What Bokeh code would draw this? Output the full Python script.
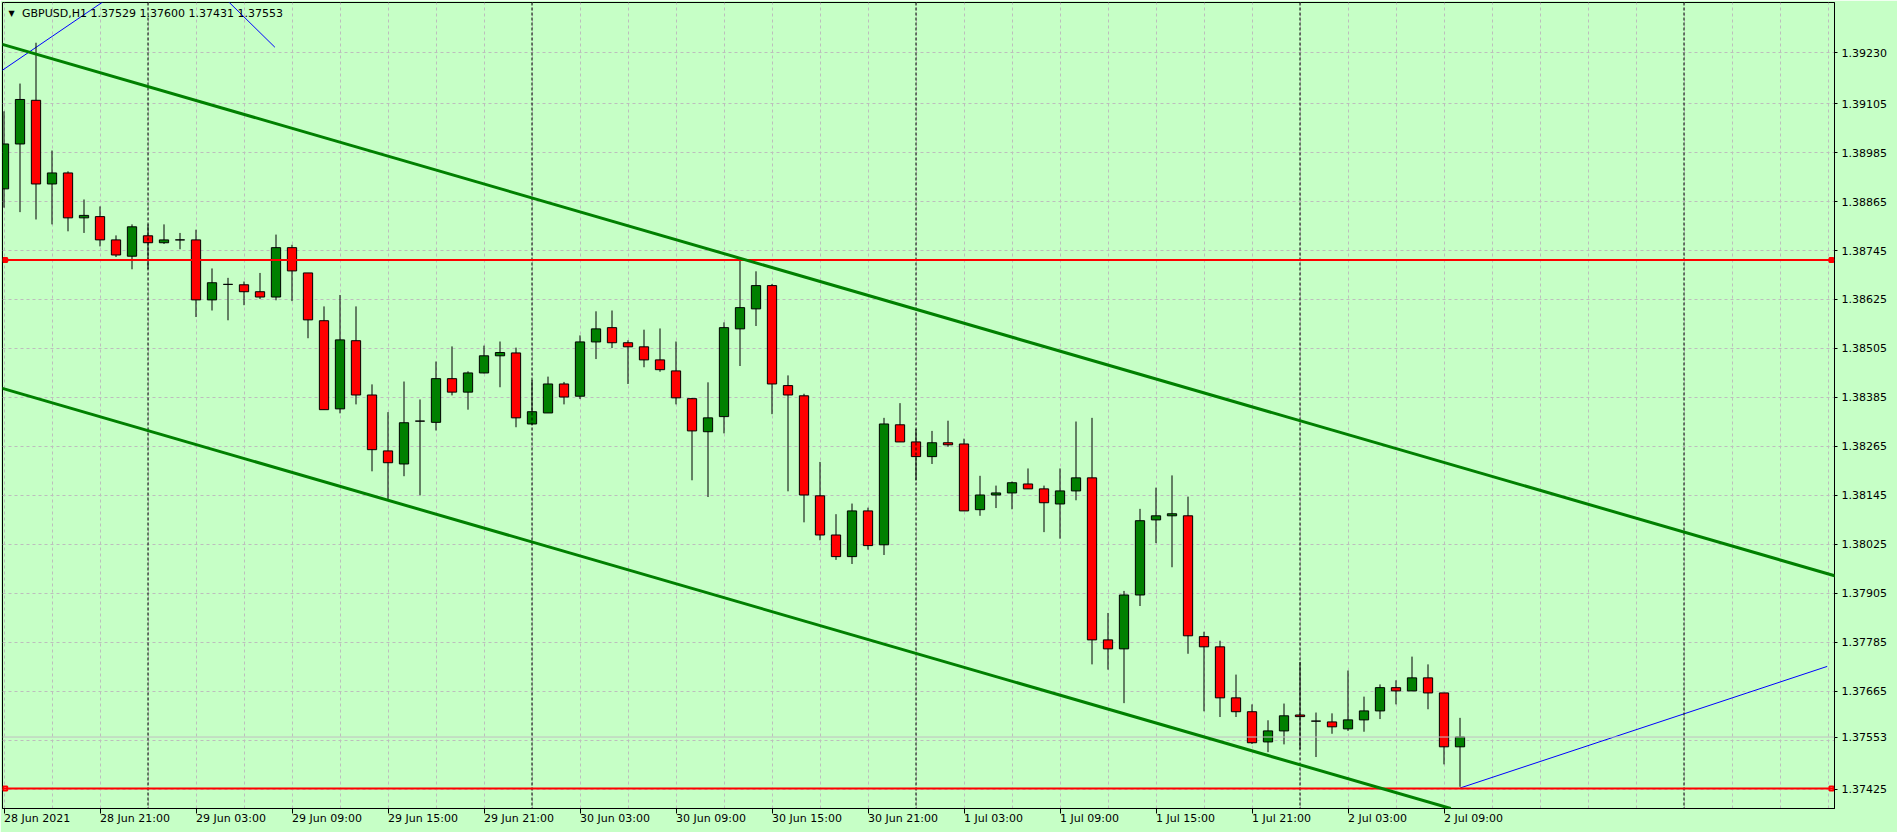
from bokeh.plotting import figure
from bokeh.models import (ColumnDataSource, FixedTicker, Range1d, Span, Slope, Label,
                          NumeralTickFormatter)
from bokeh.embed import file_html
from bokeh.resources import INLINE

# ---------------- data (GBPUSD H1, 28 Jun 2021 15:00 -> 2 Jul 2021 10:00) ----------------
open_ = [1.38896, 1.39006, 1.39113, 1.38908, 1.38935, 1.38825, 1.38828, 1.38771, 1.38731, 1.38781,
         1.38764, 1.38771, 1.38771, 1.38624, 1.38662, 1.38661, 1.38644, 1.38631, 1.38752, 1.38690,
         1.38573, 1.38357, 1.38524, 1.38391, 1.38254, 1.38222, 1.38327, 1.38324, 1.38431, 1.38398,
         1.38445, 1.38487, 1.38494, 1.38320, 1.38347, 1.38418, 1.38388, 1.38521, 1.38556, 1.38519,
         1.38509, 1.38477, 1.38450, 1.38382, 1.38301, 1.38338, 1.38553, 1.38602, 1.38659, 1.38414,
         1.38389, 1.38144, 1.38048, 1.37995, 1.38107, 1.38024, 1.38318, 1.38276, 1.38240, 1.38274,
         1.38271, 1.38110, 1.38146, 1.38151, 1.38173, 1.38161, 1.38124, 1.38156, 1.38188, 1.37791,
         1.37769, 1.37901, 1.38085, 1.38095, 1.38095, 1.37799, 1.37774, 1.37649, 1.37615, 1.37541,
         1.37568, 1.37607, 1.37592, 1.37590, 1.37573, 1.37595, 1.37617, 1.37674, 1.37666, 1.37698,
         1.37661, 1.37529]
high = [1.39086, 1.39154, 1.39254, 1.38990, 1.38939, 1.38870, 1.38853, 1.38782, 1.38809, 1.38809,
        1.38809, 1.38788, 1.38796, 1.38701, 1.38678, 1.38669, 1.38690, 1.38784, 1.38759, 1.38690,
        1.38608, 1.38636, 1.38608, 1.38417, 1.38349, 1.38424, 1.38380, 1.38473, 1.38510, 1.38449,
        1.38512, 1.38522, 1.38507, 1.38428, 1.38436, 1.38423, 1.38537, 1.38596, 1.38598, 1.38525,
        1.38551, 1.38554, 1.38522, 1.38384, 1.38422, 1.38569, 1.38721, 1.38694, 1.38663, 1.38439,
        1.38394, 1.38227, 1.38099, 1.38125, 1.38115, 1.38335, 1.38371, 1.38308, 1.38303, 1.38328,
        1.38284, 1.38193, 1.38169, 1.38179, 1.38211, 1.38169, 1.38211, 1.38326, 1.38335, 1.37857,
        1.37911, 1.38112, 1.38164, 1.38194, 1.38142, 1.37811, 1.37789, 1.37706, 1.37633, 1.37594,
        1.37635, 1.37737, 1.37613, 1.37611, 1.37716, 1.37652, 1.37682, 1.37692, 1.37750, 1.37731,
        1.37661, 1.37600]
low = [1.38850, 1.38839, 1.38821, 1.38809, 1.38792, 1.38788, 1.38755, 1.38729, 1.38699, 1.38699,
       1.38761, 1.38748, 1.38582, 1.38598, 1.38574, 1.38611, 1.38626, 1.38623, 1.38621, 1.38530,
       1.38355, 1.38346, 1.38368, 1.38204, 1.38135, 1.38192, 1.38145, 1.38304, 1.38390, 1.38355,
       1.38444, 1.38410, 1.38312, 1.38318, 1.38347, 1.38368, 1.38381, 1.38479, 1.38506, 1.38418,
       1.38459, 1.38448, 1.38368, 1.38182, 1.38141, 1.38297, 1.38462, 1.38560, 1.38344, 1.38155,
       1.38079, 1.38035, 1.37987, 1.37977, 1.38012, 1.37999, 1.38276, 1.38182, 1.38222, 1.38264,
       1.38107, 1.38095, 1.38114, 1.38111, 1.38161, 1.38055, 1.38039, 1.38133, 1.37731, 1.37718,
       1.37636, 1.37874, 1.38028, 1.37969, 1.37757, 1.37616, 1.37602, 1.37602, 1.37536, 1.37516,
       1.37535, 1.37523, 1.37504, 1.37561, 1.37568, 1.37566, 1.37597, 1.37633, 1.37666, 1.37621,
       1.37486, 1.37431]
close = [1.39006, 1.39115, 1.38908, 1.38935, 1.38825, 1.38831, 1.38771, 1.38734, 1.38803, 1.38764,
         1.38771, 1.38771, 1.38624, 1.38666, 1.38662, 1.38644, 1.38631, 1.38752, 1.38695, 1.38575,
         1.38355, 1.38526, 1.38391, 1.38257, 1.38225, 1.38323, 1.38327, 1.38431, 1.38398, 1.38445,
         1.38487, 1.38495, 1.38335, 1.38350, 1.38418, 1.38386, 1.38521, 1.38553, 1.38519, 1.38509,
         1.38477, 1.38453, 1.38384, 1.38303, 1.38335, 1.38556, 1.38605, 1.38659, 1.38418, 1.38391,
         1.38146, 1.38048, 1.37995, 1.38107, 1.38022, 1.38320, 1.38276, 1.38240, 1.38274, 1.38269,
         1.38107, 1.38146, 1.38151, 1.38176, 1.38161, 1.38127, 1.38156, 1.38188, 1.37791, 1.37769,
         1.37901, 1.38083, 1.38095, 1.38100, 1.37801, 1.37774, 1.37649, 1.37615, 1.37539, 1.37568,
         1.37605, 1.37603, 1.37592, 1.37578, 1.37595, 1.37617, 1.37674, 1.37666, 1.37698, 1.37661,
         1.37529, 1.37553]

x_tick_labels = ["28 Jun 2021", "28 Jun 21:00", "29 Jun 03:00", "29 Jun 09:00", "29 Jun 15:00",
                 "29 Jun 21:00", "30 Jun 03:00", "30 Jun 09:00", "30 Jun 15:00", "30 Jun 21:00",
                 "1 Jul 03:00", "1 Jul 09:00", "1 Jul 15:00", "1 Jul 21:00", "2 Jul 03:00",
                 "2 Jul 09:00"]
bars_per_label = 6
bars_per_grid = 3
day_start_bars = [9, 33, 57, 81, 105]

y_ticks = [1.39230, 1.39105, 1.38985, 1.38865, 1.38745, 1.38625, 1.38505, 1.38385, 1.38265,
           1.38145, 1.38025, 1.37905, 1.37785, 1.37665, 1.37545, 1.37425]
hidden_tick = 1.37545   # covered by the current-price label

# drawn objects
channel_bars = [0, 100]
channel_upper = [1.39249, 1.38112]
channel_lower = [1.38406, 1.37269]
hlines = [1.38722, 1.37427]
blue_x0 = [-2.0, 13.5, 91.0]
blue_y0 = [1.39136, 1.39375, 1.37428]
blue_x1 = [8.2, 16.93, 113.95]
blue_y1 = [1.39408, 1.39243, 1.37726]
bid = 1.37553
title_text = "GBPUSD,H1  1.37529 1.37600 1.37431 1.37553"

# ---------------- styling ----------------
BG = "#c6ffc6"
UP = "#008000"
DOWN = "#ff0000"
FONT = "DejaVu Sans"

idx = list(range(len(open_)))
src = ColumnDataSource(dict(
    x=idx, o=open_, h=high, l=low, c=close,
    top=[max(a, b) for a, b in zip(open_, close)],
    bottom=[min(a, b) for a, b in zip(open_, close)],
    color=[UP if c >= o else DOWN for o, c in zip(open_, close)],
))

FW, FH = 1832, 806
PX = 16.0  # pixels per bar
x_start = -1.5 / PX
x_end = x_start + FW / PX
p = figure(frame_width=FW, frame_height=FH,
           x_range=Range1d(x_start, x_end), y_range=Range1d(1.373779, 1.393526),
           y_axis_location="right", output_backend="svg", toolbar_location=None,
           min_border_left=2, min_border_right=63, min_border_top=2, min_border_bottom=23,
           background_fill_color=BG, border_fill_color=BG,
           outline_line_color="black", outline_line_width=1)

# grids
p.xgrid.ticker = FixedTicker(ticks=list(range(0, int(x_end) + 1, bars_per_grid)))
p.ygrid.ticker = FixedTicker(ticks=y_ticks)
for g in (p.xgrid, p.ygrid):
    g.grid_line_color = "#bdbdbd"
    g.grid_line_dash = "3 3"
    g.grid_line_width = 1

# day separators
for d in day_start_bars:
    p.add_layout(Span(location=d, dimension="height", line_color="black",
                      line_dash="3 2", line_width=1))

# axes
xa = p.xaxis[0]
xa.ticker = FixedTicker(ticks=[i * bars_per_label for i in range(len(x_tick_labels))])
xa.major_label_overrides = {i * bars_per_label: t for i, t in enumerate(x_tick_labels)}
xa.major_label_orientation = -0.0001   # labels start at their tick, like the terminal
ya = p.yaxis[0]
ya.ticker = FixedTicker(ticks=[t for t in y_ticks if t != hidden_tick] + [bid])
ya.formatter = NumeralTickFormatter(format="0.00000")
for ax in (xa, ya):
    ax.axis_line_color = "black"
    ax.major_tick_line_color = "black"
    ax.major_tick_in = 0
    ax.minor_tick_in = 0
    ax.minor_tick_out = 0
    ax.major_label_text_font = FONT
    ax.major_label_text_font_size = "11px"
    ax.major_label_text_color = "black"
xa.major_tick_out = 5
xa.major_label_standoff = 5
ya.major_tick_out = 3
ya.major_label_standoff = 4

# horizontal levels and bid line
for lv in hlines:
    p.add_layout(Span(location=lv, dimension="width", line_color="#ff0000", line_width=2))
p.scatter([x_start + 0.17] * len(hlines) + [x_end - 0.19] * len(hlines), hlines + hlines,
          marker="square", size=4, line_color="#ff0000", line_width=2, fill_color="white")
p.add_layout(Span(location=bid, dimension="width", line_color="#c0c0c0", line_width=1))

# channel
grad = (channel_upper[1] - channel_upper[0]) / (channel_bars[1] - channel_bars[0])
for ch in (channel_upper, channel_lower):
    p.add_layout(Slope(gradient=grad, y_intercept=ch[0] - grad * channel_bars[0],
                       line_color=UP, line_width=3))

# blue lines
p.segment(blue_x0, blue_y0, blue_x1, blue_y1, line_color="#0000ff", line_width=1)

# candles
p.segment("x", "l", "x", "h", source=src, line_color="black", line_width=1)
p.vbar(x="x", width=0.58, top="top", bottom="bottom", source=src,
       fill_color="color", line_color="black", line_width=1)

# header
p.add_layout(Label(x=9, y=FH - 10.5, x_units="screen", y_units="screen", text="\u25bc",
                   text_font=FONT, text_font_size="8px", text_align="center",
                   text_baseline="middle", text_color="black"))
p.add_layout(Label(x=19.5, y=FH - 11, x_units="screen", y_units="screen", text=title_text,
                   text_font=FONT, text_font_size="11px", text_baseline="middle",
                   text_color="black"))

open("out.html", "w").write(file_html(p, INLINE))
